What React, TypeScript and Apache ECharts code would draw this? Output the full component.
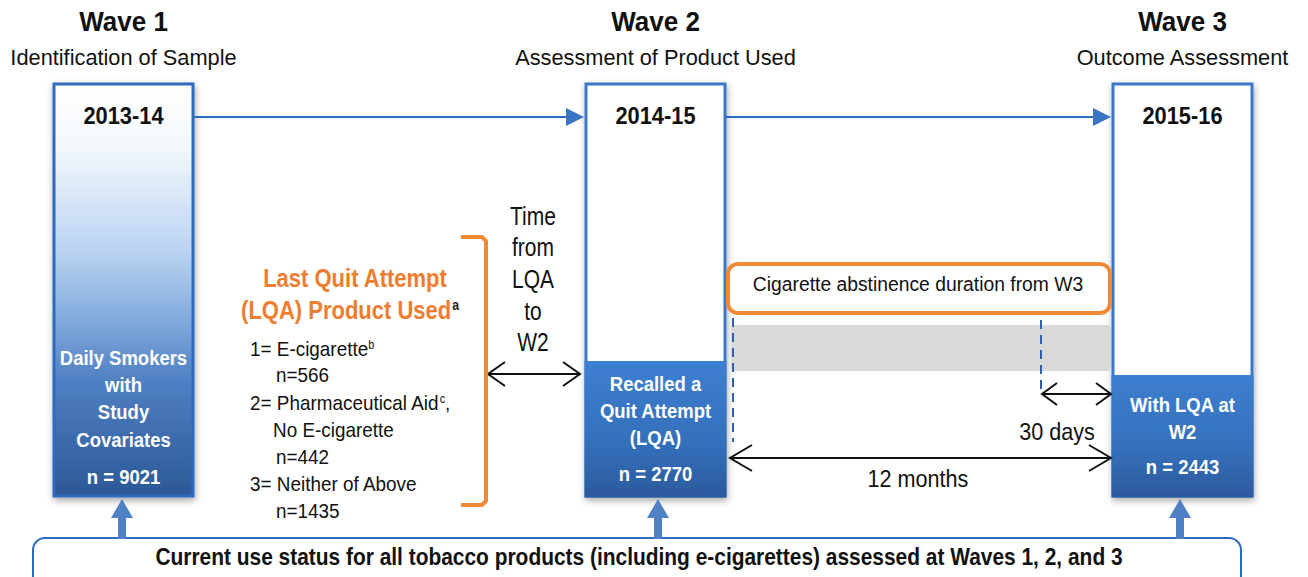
import React, { useEffect, useRef } from "react";
import * as echarts from "echarts";

// ---- content ----
const waveTitles = ["Wave 1", "Wave 2", "Wave 3"];
const waveSubtitles = ["Identification of Sample", "Assessment of Product Used", "Outcome Assessment"];
const waveYears = ["2013-14", "2014-15", "2015-16"];
const sampleLabels = [
  ["Daily Smokers", "with", "Study", "Covariates"],
  ["Recalled a", "Quit Attempt", "(LQA)"],
  ["With LQA at", "W2"],
];
const sampleN = [9021, 2770, 2443];
const lqaTitle = ["Last Quit Attempt", "(LQA) Product Used"];
const lqaProducts = [["E-cigarette", "b"], ["Pharmaceutical Aid", "c"], ["Neither of Above", ""]];
const lqaSecondLine = ["", "No E-cigarette", ""];
const lqaN = [566, 442, 1435];
const timeLabel = ["Time", "from", "LQA", "to", "W2"];
const abstinenceLabel = "Cigarette abstinence duration from W3";
const shortWindow = "30 days";
const longWindow = "12 months";
const footerText = "Current use status for all tobacco products (including e-cigarettes) assessed at Waves 1, 2, and 3";

// ---- layout ----
const FONT = '"Liberation Sans", Arial, sans-serif';
const BOX_X = [54, 586, 1113];
const BOX_W = 139;
const BOX_TOP = 84;
const BOX_BOTTOM = 496;
const BLUE_TOP = [84, 361, 375];
const LABEL_Y = [[358, 385, 412, 440], [384, 411, 438], [405, 432]];
const N_Y = [477, 474, 467];
const BLUE = "#2e6bbf";
const ORANGE = "#ee7d2f";

function txt(text: string, x: number, y: number, size: number, opts: any = {}) {
  return {
    type: "text",
    x,
    y,
    scaleX: opts.sx ?? 0.9,
    z: opts.z ?? 10,
    style: {
      text,
      font: `${opts.bold ? "bold " : ""}${size}px ${FONT}`,
      fill: opts.fill ?? "#111",
      textAlign: opts.align ?? "center",
      textVerticalAlign: "middle",
    },
  };
}

function dblArrow(x1: number, x2: number, y: number, hw = 16, hh = 11) {
  const st = { stroke: "#111", lineWidth: 2, fill: null };
  return [
    { type: "line", shape: { x1, y1: y, x2, y2: y }, style: st, z: 5 },
    { type: "polyline", shape: { points: [[x1 + hw, y - hh], [x1, y], [x1 + hw, y + hh]] }, style: st, z: 5 },
    { type: "polyline", shape: { points: [[x2 - hw, y - hh], [x2, y], [x2 - hw, y + hh]] }, style: st, z: 5 },
  ];
}

function upArrow(cx: number) {
  return {
    type: "polygon",
    z: 8,
    shape: {
      points: [
        [cx, 499], [cx + 11, 518], [cx + 4, 518], [cx + 4, 539],
        [cx - 4, 539], [cx - 4, 518], [cx - 11, 518],
      ],
    },
    style: { fill: "#4f81c4" },
  };
}

function buildGraphics() {
  const els: any[] = [];
  const shadow = { shadowBlur: 7, shadowColor: "rgba(0,0,0,0.35)", shadowOffsetY: 3, shadowOffsetX: 1 };

  BOX_X.forEach((x, i) => {
    const cx = x + BOX_W / 2;
    els.push(txt(waveTitles[i], cx, 22, 28, { bold: true, sx: 0.93 }));
    els.push(txt(waveSubtitles[i], cx, 57, 22, { sx: 0.99 }));
    if (i === 0) {
      els.push({
        type: "rect",
        z: 2,
        shape: { x, y: BOX_TOP, width: BOX_W, height: BOX_BOTTOM - BOX_TOP },
        style: {
          fill: new echarts.graphic.LinearGradient(0, 0, 0, 1, [
            { offset: 0, color: "#ffffff" },
            { offset: 0.15, color: "#f4f8fd" },
            { offset: 0.4, color: "#bcd4f1" },
            { offset: 0.55, color: "#8ab0e0" },
            { offset: 0.72, color: "#4f80c3" },
            { offset: 1, color: "#2c5896" },
          ]),
          stroke: BLUE,
          lineWidth: 3,
          ...shadow,
        },
      });
    } else {
      els.push({
        type: "rect",
        z: 2,
        shape: { x, y: BOX_TOP, width: BOX_W, height: BOX_BOTTOM - BOX_TOP },
        style: { fill: "#ffffff", stroke: "#3a78c8", lineWidth: 3, ...shadow },
      });
      els.push({
        type: "rect",
        z: 3,
        shape: { x: x - 1.5, y: BLUE_TOP[i], width: BOX_W + 3, height: BOX_BOTTOM - BLUE_TOP[i] + 1.5 },
        style: {
          fill: new echarts.graphic.LinearGradient(0, 0, 0, 1, [
            { offset: 0, color: "#3d7fd0" },
            { offset: 0.6, color: "#3570bb" },
            { offset: 1, color: "#2b5a9c" },
          ]),
        },
      });
    }
    els.push(txt(waveYears[i], cx, 116, 23, { bold: true, sx: 0.95 }));
    sampleLabels[i].forEach((l, j) => {
      els.push(txt(l, cx, LABEL_Y[i][j], 21, { bold: true, fill: "#ffffff", sx: 0.88 }));
    });
    els.push(txt(`n = ${sampleN[i]}`, cx, N_Y[i], 21, { bold: true, fill: "#ffffff", sx: 0.88 }));
  });

  // connecting arrows between waves
  const conn = [[193, 584], [725, 1111]];
  conn.forEach(([a, b]) => {
    els.push({ type: "line", z: 4, shape: { x1: a, y1: 117, x2: b - 16, y2: 117 }, style: { stroke: BLUE, lineWidth: 2 } });
    els.push({ type: "polygon", z: 4, shape: { points: [[b - 18, 108], [b, 117], [b - 18, 126]] }, style: { fill: "#3a74c4" } });
  });

  // LQA product block
  els.push(txt(lqaTitle[0], 355, 279, 25, { bold: true, fill: ORANGE, sx: 0.88 }));
  els.push({
    type: "text",
    x: 350,
    y: 311,
    scaleX: 0.88,
    z: 10,
    style: {
      text: `{m|${lqaTitle[1]}}{s|a}`,
      textAlign: "center",
      textVerticalAlign: "middle",
      rich: {
        m: { fontFamily: FONT, fontSize: 25, fontWeight: "bold", fill: ORANGE },
        s: { fontFamily: FONT, fontSize: 14, fontWeight: "bold", fill: "#222", verticalAlign: "top", padding: [0, 0, 11, 1] },
      },
    },
  });
  const rowY = [[349, 375], [403, 430, 457], [484, 511]];
  lqaProducts.forEach(([name, sup], i) => {
    const ys = rowY[i];
    els.push({
      type: "text",
      x: 250,
      y: ys[0],
      scaleX: 0.9,
      z: 10,
      style: {
        text: sup ? `{m|${i + 1}= ${name}}{s|${sup}}${i === 1 ? "{m|,}" : ""}` : `{m|${i + 1}= ${name}}`,
        textAlign: "left",
        textVerticalAlign: "middle",
        rich: {
          m: { fontFamily: FONT, fontSize: 21, fill: "#111" },
          s: { fontFamily: FONT, fontSize: 12, fill: "#111", verticalAlign: "top", padding: [0, 0, 9, 0] },
        },
      },
    });
    let k = 1;
    if (lqaSecondLine[i]) {
      els.push(txt(lqaSecondLine[i], 273, ys[k], 21, { align: "left", sx: 0.9 }));
      k++;
    }
    els.push(txt(`n=${lqaN[i]}`, 276, ys[k], 21, { align: "left", sx: 0.9 }));
  });

  // orange bracket
  els.push({
    type: "polyline",
    z: 6,
    shape: { points: [[461, 237], [482, 237], [486, 241], [486, 501], [482, 505], [461, 505]] },
    style: { stroke: "#f08a35", lineWidth: 4, fill: null, lineJoin: "round" },
  });

  // time from LQA to W2
  const tY = [216, 247, 279, 311, 342];
  timeLabel.forEach((t, i) => els.push(txt(t, 533, tY[i], 25, { sx: 0.84 })));
  els.push(...dblArrow(488, 580, 374, 17, 12));

  // abstinence box + gray band
  els.push({
    type: "rect",
    z: 6,
    shape: { x: 728, y: 264, width: 382, height: 49, r: 10 },
    style: { fill: "#ffffff", stroke: "#f08a35", lineWidth: 4 },
  });
  els.push(txt(abstinenceLabel, 918, 284, 21, { sx: 0.92 }));
  els.push({
    type: "rect",
    z: 4,
    shape: { x: 731, y: 325, width: 380, height: 46, r: 4 },
    style: { fill: "#d9d9d9" },
  });
  const dash = { stroke: "#2e62b0", lineWidth: 2, lineDash: [9, 6] };
  els.push({ type: "line", z: 5, shape: { x1: 733, y1: 318, x2: 733, y2: 442 }, style: dash });
  els.push({ type: "line", z: 5, shape: { x1: 1041, y1: 320, x2: 1041, y2: 392 }, style: dash });
  els.push(...dblArrow(1042, 1111, 394, 15, 11));
  els.push(txt(shortWindow, 1057, 432, 24, { sx: 0.9 }));
  els.push(...dblArrow(730, 1111, 458, 22, 13));
  els.push(txt(longWindow, 918, 479, 24, { sx: 0.9 }));

  // footer box + up arrows
  els.push({
    type: "rect",
    z: 6,
    shape: { x: 33, y: 538, width: 1208, height: 60, r: [12, 12, 0, 0] },
    style: { fill: "#ffffff", stroke: BLUE, lineWidth: 2 },
  });
  [122, 658, 1180].forEach((cx) => els.push(upArrow(cx)));
  els.push(txt(footerText, 639, 557, 23, { bold: true, sx: 0.91 }));

  return els;
}

export default function App() {
  const ref = useRef<HTMLDivElement>(null);
  useEffect(() => {
    document.body.style.margin = "0";
    const chart = echarts.init(ref.current!, undefined, { renderer: "svg" });
    chart.setOption({
      animation: false,
      backgroundColor: "#ffffff",
      graphic: { elements: buildGraphics() },
    });
    return () => chart.dispose();
  }, []);
  return <div ref={ref} style={{ width: 1308, height: 577 }} />;
}
